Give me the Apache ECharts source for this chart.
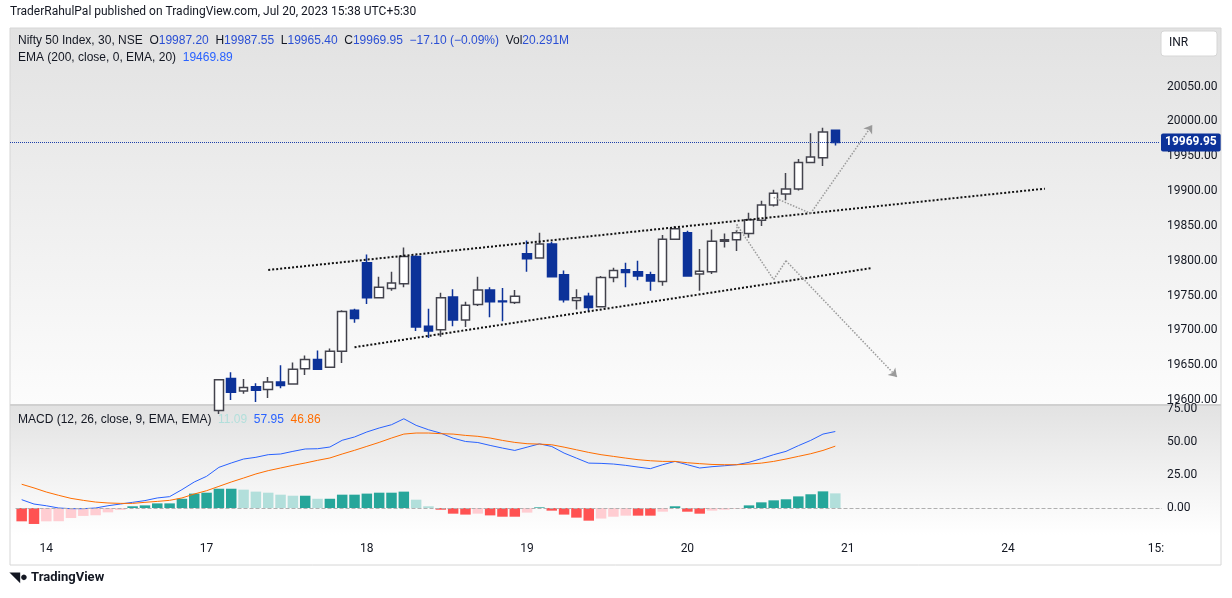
<!DOCTYPE html>
<html>
<head>
<meta charset="UTF-8">
<script src="https://cdn.jsdelivr.net/npm/echarts@6/dist/echarts.min.js"></script>
<style>
  html, body { margin: 0; padding: 0; background: #fff; }
  #main { width: 1232px; height: 598px; }
</style>
</head>
<body>
<div id="main"></div>
<script>
// 30 min candles, index 0 = 13 Jul 15:00 ... index 66 = 20 Jul 15:15, rest is empty space
var N = 93;
var labelIdx = [2, 15, 28, 41, 54, 67, 80, 92];
var labelText = ['14', '17', '18', '19', '20', '21', '24', '15:'];

// [open, close, low, high]; first 14 candles sit below the visible price range
var candles = [
  '-', '-', '-', '-', '-', '-', '-', '-', '-', '-', '-', '-', '-', '-',
  [19570, 19590, 19560, 19594], [19590, 19575, 19565, 19599], [19585, 19629, 19580, 19630],
  [19631, 19611, 19600, 19640], [19613, 19618, 19609, 19630], [19619, 19614, 19597, 19624],
  [19615, 19626, 19603, 19633], [19626, 19621, 19617, 19650], [19623, 19644, 19622, 19654],
  [19645, 19658, 19636, 19664], [19658, 19644, 19644, 19671], [19647, 19670, 19646, 19674],
  [19670, 19727, 19653, 19729], [19729, 19717, 19711, 19731], [19797, 19747, 19738, 19809],
  [19747, 19762, 19747, 19777], [19760, 19768, 19757, 19784], [19767, 19806, 19762, 19819],
  [19806, 19705, 19699, 19808], [19706, 19699, 19689, 19731], [19701, 19747, 19691, 19754],
  [19748, 19715, 19706, 19759], [19715, 19736, 19705, 19741], [19737, 19758, 19735, 19777],
  [19758, 19741, 19719, 19762], [19742, 19741, 19713, 19761], [19740, 19749, 19738, 19758],
  [19810, 19803, 19784, 19829], [19804, 19824, 19803, 19840], [19824, 19777, 19776, 19827],
  [19780, 19744, 19740, 19786], [19743, 19747, 19730, 19759], [19749, 19733, 19727, 19754],
  [19734, 19776, 19733, 19778], [19776, 19786, 19769, 19790], [19787, 19783, 19762, 19797],
  [19784, 19778, 19772, 19800], [19780, 19771, 19757, 19784], [19770, 19831, 19764, 19837],
  [19831, 19846, 19830, 19850], [19840, 19778, 19777, 19843], [19781, 19785, 19757, 19817],
  [19784, 19828, 19781, 19845], [19828, 19830, 19819, 19839], [19830, 19840, 19814, 19844],
  [19839, 19859, 19833, 19869], [19858, 19880, 19850, 19886], [19880, 19897, 19878, 19902],
  [19896, 19903, 19887, 19926], [19903, 19941, 19901, 19946], [19941, 19949, 19940, 19983],
  [19948, 19985, 19936, 19991], [19987.20, 19969.95, 19965.40, 19987.55]
];

var histValues = [
  -10.1, -12.1, -10.1, -10, -7.6, -6, -5.5, -3.3, -1.5, 1.3, 2, 3.5, 3.5, 7, 10.9, 11.6, 14.6,
  14.6, 13.9, 12.4, 11.6, 10.1, 9.3, 9.3, 7, 7, 10.1, 10.1, 10.9, 11.6, 11.6, 12.4, 6.3, 1.3,
  -1.3, -4.3, -5, -4.3, -5.6, -6.6, -6.6, -3.5, 0.5, -2, -5, -7.3, -9.6, -8, -6.6, -5.8, -5.8,
  -5.8, -2.8, 1.3, -2.8, -4.3, -2, -1.3, -0.5, 2, 4.3, 5.8, 6.6, 8.8, 10.4, 12.6, 11.09
];
var macdValues = [
  6.3, 3, 1.7, 0, -0.5, -0.5, 0, 1.7, 3, 4.3, 5.6, 7.6, 8.6, 13.9, 19.7, 24, 30.8, 34.1, 37.1,
  38.4, 40.4, 40.9, 42.9, 44.7, 44.9, 46.2, 51.3, 53.8, 57.6, 60.6, 63.1, 67.6, 62.6, 59.3, 56.7,
  52.9, 50.4, 49.6, 47.4, 45.4, 43.6, 46.1, 48.6, 46.6, 41.6, 37.8, 34, 33.8, 33.3, 32.3, 31,
  29.8, 32.8, 35.3, 32.8, 30.3, 31.3, 32, 32.8, 34.6, 37.4, 40.4, 42.9, 47.2, 51.2, 56, 57.95
];
var signalValues = [
  18, 15.2, 12.1, 9.6, 7.3, 5.8, 4.5, 3.8, 3.5, 3.5, 4.3, 5, 5.8, 7.6, 10.6, 13.1, 16.4, 19.7,
  22.7, 25.8, 28.3, 30.3, 32.3, 34.1, 36.1, 37.9, 40.9, 43.7, 46.7, 49.7, 53, 56, 56.8, 56.8,
  56.3, 56, 55, 54.3, 53, 51.2, 49.7, 48.7, 48.4, 47.9, 46.1, 44.1, 42.1, 40.4, 39.1, 37.8,
  36.6, 35.8, 35.3, 35.3, 34.3, 33.6, 33, 32.8, 32.8, 33.3, 34, 35.3, 37.1, 39.1, 41.1, 43.6, 46.86
];
var lastPrice = 19969.95;

var cats = [];
for (var i = 0; i < N; i++) {
  var k = labelIdx.indexOf(i);
  cats.push(k >= 0 ? labelText[k] : '');
}

// tradingview style histogram colours
var histData = histValues.map(function (v, i) {
  var prev = i > 0 ? histValues[i - 1] : v;
  var c;
  if (v >= 0) c = v >= prev ? '#26a69a' : '#b2dfdb';
  else c = v <= prev ? '#ff5252' : '#ffcdd2';
  return { value: v, itemStyle: { color: c } };
});

var chart = echarts.init(document.getElementById('main'));
var font = 'Roboto, "Noto Sans", sans-serif';
var dotted = { type: 'dotted', color: '#111', width: 2, dashOffset: 0 };
var gray = { type: 'dotted', color: '#9a9a9a', width: 1.5 };

function seg(a, b, style, arrow) {
  return [
    { coord: a, symbol: 'none', lineStyle: style },
    { coord: b, symbol: arrow ? 'arrow' : 'none', symbolSize: 8 }
  ];
}

chart.setOption({
  animation: false,
  textStyle: { fontFamily: font },
  graphic: [
    { type: 'rect', z: -10, shape: { x: 10, y: 28, width: 1211, height: 377 },
      style: { fill: new echarts.graphic.LinearGradient(0, 0, 0, 1, [{ offset: 0, color: '#e2e2e2' }, { offset: 1, color: '#fcfcfc' }]) } },
    { type: 'rect', z: -10, shape: { x: 10, y: 405, width: 1211, height: 130 },
      style: { fill: new echarts.graphic.LinearGradient(0, 0, 0, 1, [{ offset: 0, color: '#e2e2e2' }, { offset: 1, color: '#ffffff' }]) } },
    { type: 'rect', z: -9, shape: { x: 10, y: 28, width: 1211, height: 537 },
      style: { fill: 'none', stroke: '#d6d6d6', lineWidth: 1 } },
    { type: 'line', z: -9, shape: { x1: 10, y1: 405, x2: 1221, y2: 405 }, style: { stroke: '#d0d0d0', lineWidth: 2 } },
    { type: 'text', left: 10, top: 6, style: { text: 'TraderRahulPal published on TradingView.com, Jul 20, 2023 15:38 UTC+5:30', font: '12px ' + font, fill: '#131722' } },
    { type: 'text', left: 18, top: 35, style: {
      text: '{n|Nifty 50 Index, 30, NSE}  {k|O}{v|19987.20}  {k|H}{v|19987.55}  {k|L}{v|19965.40}  {k|C}{v|19969.95}  {v|\u221217.10 (\u22120.09%)}  {k|Vol}{v|20.291M}',
      rich: { n: { fontSize: 12, fill: '#131722' }, k: { fontSize: 12, fill: '#131722' }, v: { fontSize: 12, fill: '#2a4fd4' } } } },
    { type: 'text', left: 18, top: 52, style: {
      text: '{n|EMA (200, close, 0, EMA, 20)}  {v|19469.89}',
      rich: { n: { fontSize: 12, fill: '#131722' }, v: { fontSize: 12, fill: '#2962ff' } } } },
    { type: 'text', left: 18, top: 414, style: {
      text: '{n|MACD (12, 26, close, 9, EMA, EMA)}  {h|11.09}  {m|57.95}  {s|46.86}',
      rich: { n: { fontSize: 12, fill: '#131722' }, h: { fontSize: 12, fill: '#b2dfdb' }, m: { fontSize: 12, fill: '#2962ff' }, s: { fontSize: 12, fill: '#ff6d00' } } } },
    { type: 'rect', shape: { x: 1161, y: 31, width: 56, height: 25, r: 3 }, style: { fill: '#fff', stroke: '#d6d6d6' } },
    { type: 'text', left: 1169, top: 37, style: { text: 'INR', font: '12px ' + font, fill: '#131722' } },
    { type: 'text', left: 10, top: 571, style: { text: '\u25e5\u25cf TradingView', font: 'bold 13px ' + font, fill: '#131722' } }
  ],
  axisPointer: { show: false },
  grid: [
    { left: 15.5, right: 70, top: 17, bottom: 198 },
    { left: 15.5, right: 70, top: 409, bottom: 57 }
  ],
  xAxis: [
    { type: 'category', gridIndex: 0, data: cats, boundaryGap: true,
      axisLine: { show: false }, axisTick: { show: false }, axisLabel: { show: false }, splitLine: { show: false } },
    { type: 'category', gridIndex: 1, data: cats, boundaryGap: true,
      axisLine: { show: false }, axisTick: { show: false }, splitLine: { show: false },
      axisLabel: { interval: 0, color: '#131722', fontSize: 12, margin: 2 } }
  ],
  yAxis: [
    { type: 'value', gridIndex: 0, position: 'right', min: 19600, max: 20150, interval: 50,
      axisLine: { show: false }, axisTick: { show: false }, splitLine: { show: false },
      axisLabel: { color: '#131722', fontSize: 12, margin: 5,
        formatter: function (v) { return v > 20050 ? '' : v.toFixed(2); } } },
    { type: 'value', gridIndex: 1, position: 'right', min: -25, max: 75, interval: 25,
      axisLine: { show: false }, axisTick: { show: false }, splitLine: { show: false },
      axisLabel: { color: '#131722', fontSize: 12, margin: 5,
        formatter: function (v) { return v < 0 ? '' : v.toFixed(2); } } }
  ],
  series: [
    { type: 'candlestick', xAxisIndex: 0, yAxisIndex: 0, data: candles, barWidth: 9, clip: true,
      itemStyle: { color: '#ffffff', color0: '#0c3299', borderColor: '#43434d', borderColor0: '#0c3299', borderWidth: 1.5 },
      markLine: {
        silent: true, symbol: 'none', label: { show: false },
        data: [
          seg([20, 19786.7], [82.8, 19903.5], dotted),
          seg([26.9, 19675.8], [69, 19789.6], dotted),
          seg([58, 19838], [58.3, 19852], gray),
          seg([58.3, 19852], [60.9, 19773], gray),
          seg([60.9, 19773], [61.9, 19800], gray),
          seg([61.9, 19800], [70.8, 19633], gray, true),
          seg([61.3, 19891], [64.1, 19868], gray),
          seg([64.1, 19868], [69, 19995], gray, true),
          [
            { yAxis: lastPrice, x: 10, symbol: 'none', lineStyle: { type: 'dotted', color: '#1d3fa8', width: 1 } },
            { yAxis: lastPrice, x: 1160, symbol: 'none',
              label: { show: true, position: 'end', formatter: '19969.95', color: '#fff', fontWeight: 'bold', fontSize: 12,
                backgroundColor: '#0c3299', padding: [3, 4], borderRadius: 2, distance: 1 } }
          ]
        ]
      }
    },
    { type: 'bar', xAxisIndex: 1, yAxisIndex: 1, data: histData, barWidth: 10.5,
      markLine: { silent: true, symbol: 'none', label: { show: false },
        lineStyle: { type: 'dashed', color: '#b0b0b0', width: 1 }, data: [{ yAxis: 0 }] } },
    { type: 'line', xAxisIndex: 1, yAxisIndex: 1, data: macdValues, showSymbol: false,
      lineStyle: { color: '#2962ff', width: 1 } },
    { type: 'line', xAxisIndex: 1, yAxisIndex: 1, data: signalValues, showSymbol: false,
      lineStyle: { color: '#ff6d00', width: 1 } }
  ]
});
</script>
</body>
</html>
